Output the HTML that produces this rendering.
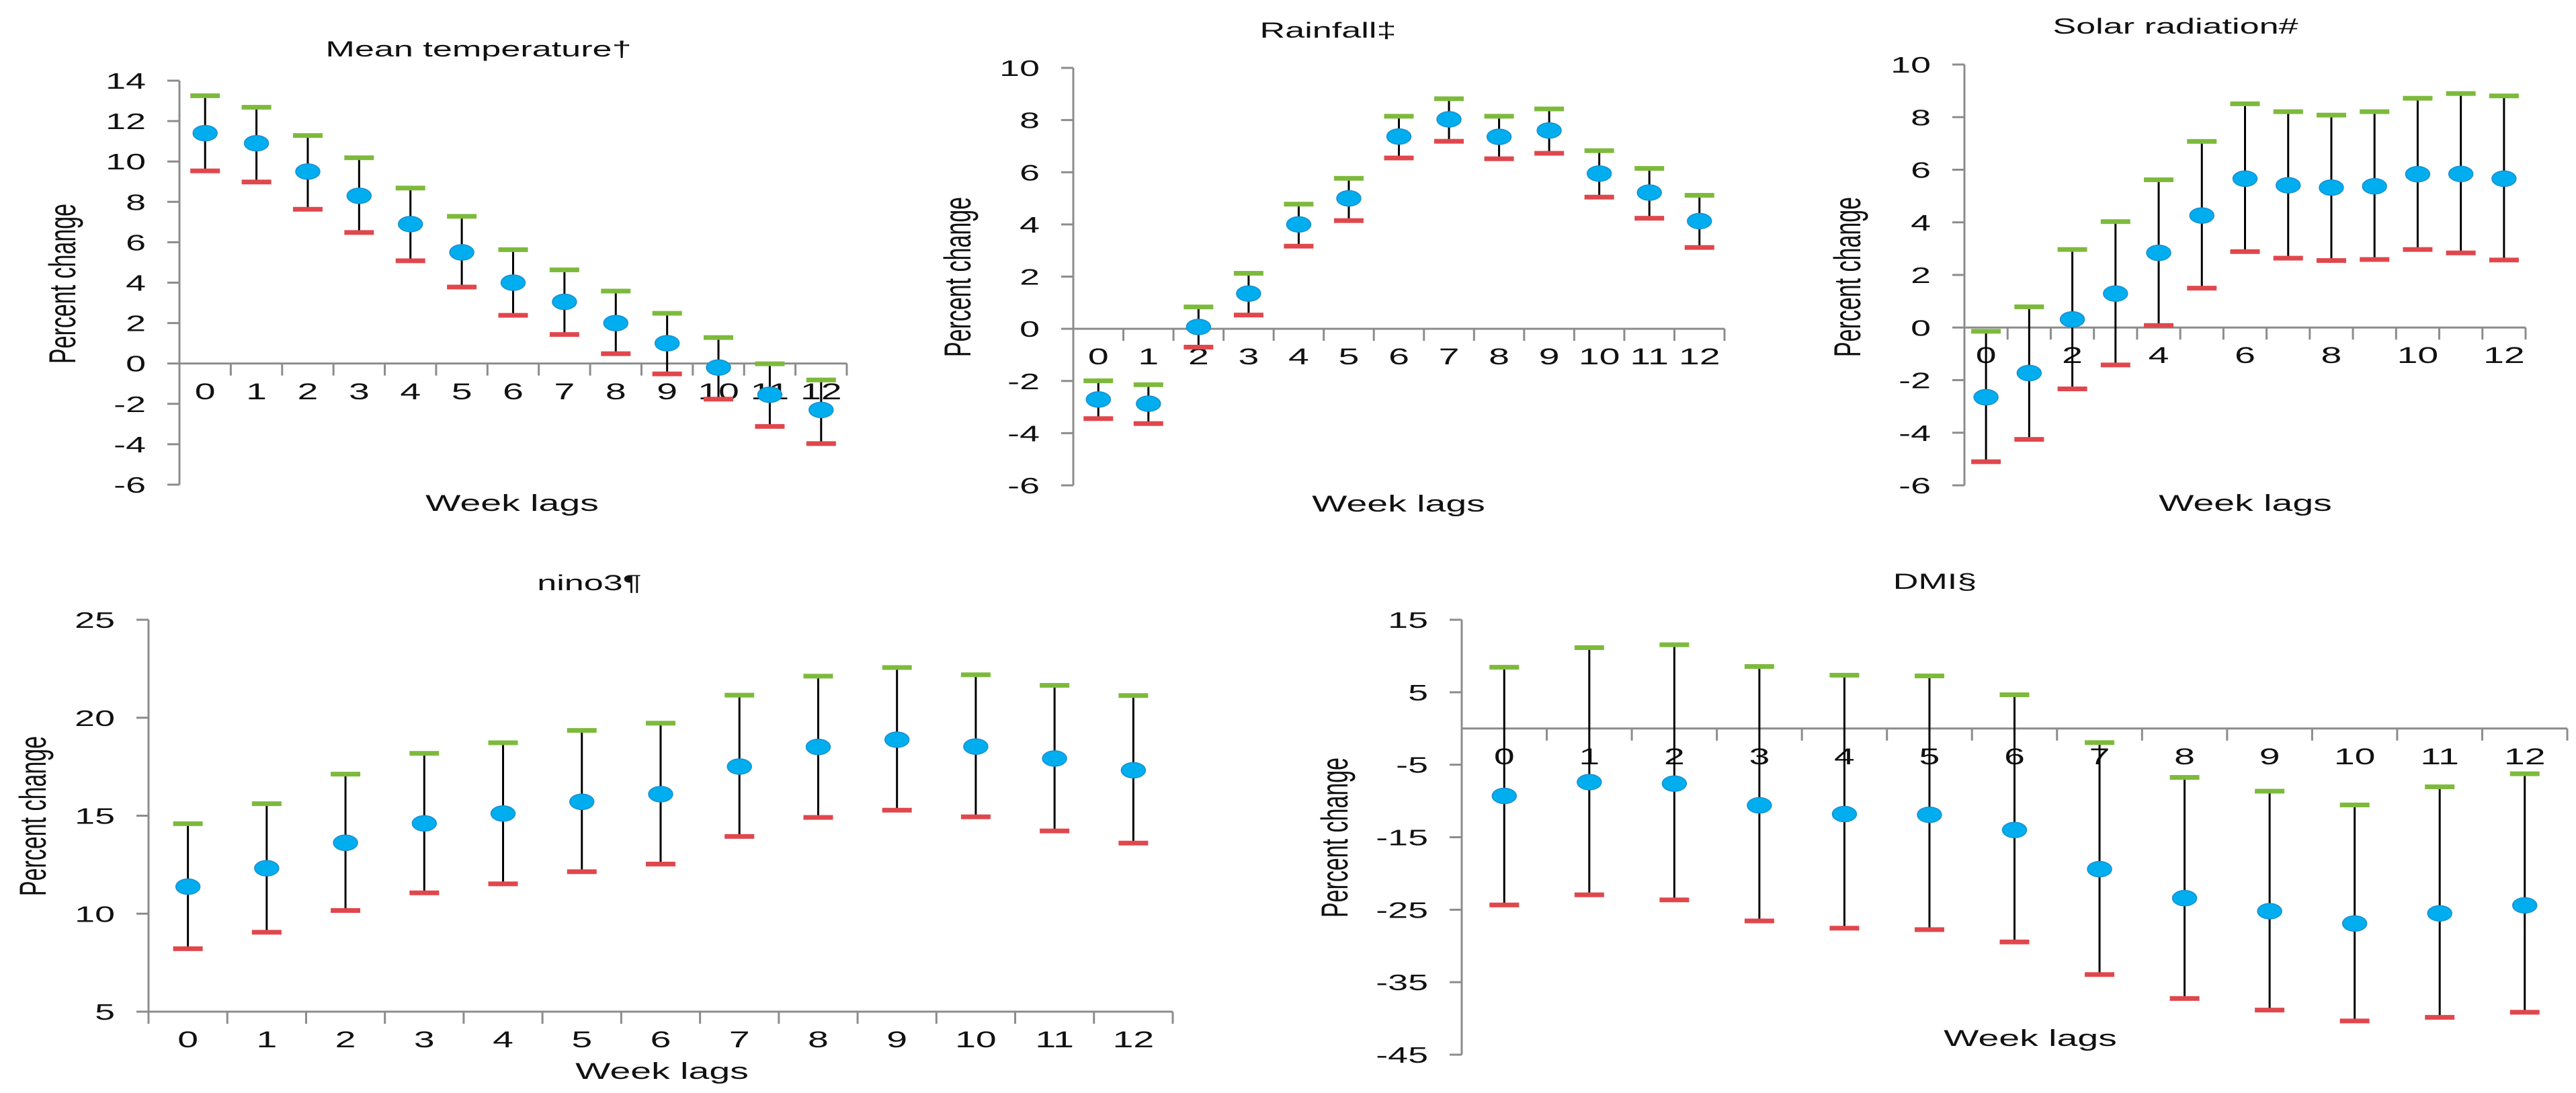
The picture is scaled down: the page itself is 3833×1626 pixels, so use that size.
<!DOCTYPE html>
<html><head><meta charset="utf-8"><style>html,body{margin:0;padding:0;background:#fff}svg{display:block}</style></head>
<body>
<svg id="fig" width="3833" height="1626" viewBox="0 0 3833 1626" xmlns="http://www.w3.org/2000/svg" font-family="Liberation Sans, Arial, sans-serif"></svg>
<script>
const lags = [0,1,2,3,4,5,6,7,8,9,10,11,12];
const tempEst = [11.4,10.9,9.5,8.3,6.9,5.5,4.0,3.05,2.0,1.0,-0.2,-1.55,-2.3];
const tempUp = [13.27,12.7,11.3,10.2,8.7,7.3,5.65,4.65,3.6,2.5,1.3,0,-0.8];
const tempLow = [9.55,9.0,7.65,6.5,5.1,3.8,2.4,1.45,0.5,-0.5,-1.75,-3.1,-3.95];
const rainEst = [-2.71,-2.87,0.07,1.35,4.0,5.0,7.37,8.03,7.36,7.6,5.95,5.22,4.13];
const rainUp = [-1.98,-2.13,0.85,2.14,4.79,5.78,8.16,8.83,8.16,8.44,6.84,6.16,5.13];
const rainLow = [-3.43,-3.62,-0.69,0.54,3.18,4.16,6.56,7.2,6.53,6.74,5.06,4.25,3.13];
const solarEst = [-2.65,-1.73,0.31,1.29,2.84,4.26,5.66,5.41,5.32,5.37,5.83,5.84,5.66];
const solarUp = [-0.13,0.8,2.98,4.04,5.63,7.09,8.52,8.22,8.09,8.22,8.73,8.91,8.82];
const solarLow = [-5.09,-4.24,-2.32,-1.41,0.09,1.51,2.9,2.65,2.56,2.6,2.98,2.85,2.58];
const ninoEst = [11.38,12.32,13.62,14.61,15.11,15.71,16.1,17.51,18.51,18.88,18.53,17.92,17.32];
const ninoUp = [14.61,15.63,17.14,18.2,18.74,19.37,19.74,21.17,22.14,22.58,22.21,21.67,21.15];
const ninoLow = [8.23,9.07,10.18,11.08,11.54,12.16,12.55,13.96,14.93,15.3,14.96,14.24,13.62];
const dmiEst = [-9.3,-7.4,-7.6,-10.6,-11.8,-11.9,-14.0,-19.4,-23.4,-25.2,-26.9,-25.5,-24.4];
const dmiUp = [8.5,11.2,11.6,8.6,7.4,7.3,4.7,-1.9,-6.7,-8.6,-10.5,-8.0,-6.2];
const dmiLow = [-24.3,-22.9,-23.6,-26.5,-27.5,-27.7,-29.4,-33.9,-37.2,-38.8,-40.3,-39.8,-39.1];
const tempTicks = [14,12,10,8,6,4,2,0,-2,-4,-6];
const rainTicks = [10,8,6,4,2,0,-2,-4,-6];
const solarTicks = [10,8,6,4,2,0,-2,-4,-6];
const ninoTicks = [25,20,15,10,5];
const dmiTicks = [15,5,-5,-15,-25,-35,-45];

const NS='http://www.w3.org/2000/svg';
const svg=document.getElementById('fig');
const SX=1.63;
function mk(tag,attrs,parent){const e=document.createElementNS(NS,tag);for(const k in attrs)e.setAttribute(k,attrs[k]);(parent||svg).appendChild(e);return e;}
function txt(s,x,y,size,anchor,parent,rot){
  const t=mk('text',{transform:'translate('+x+','+y+') scale('+SX+',1)'+(rot?' rotate(-90)':''),'font-size':size,'text-anchor':anchor,fill:'#111'},parent);
  t.textContent=s;return t;
}

function chart(o){
  const g=mk('g',{});
  
  
  const n=lags.length, bw=(o.x1-o.x0)/n;
  const ymin=o.ticks[o.ticks.length-1], ymax=o.ticks[0];
  const ys=v=>o.yTop+(ymax-v)/(ymax-ymin)*(o.yBot-o.yTop);
  const xs=i=>o.x0+bw*(i+0.5);
  const yAxis=mk('line',{x1:o.x0,y1:o.yTop,x2:o.x0,y2:o.yBot,stroke:'#8c8c8c','stroke-width':3},g);
  
  
  o.ticks.forEach(v=>{
    mk('line',{x1:o.x0-18,y1:ys(v),x2:o.x0,y2:ys(v),stroke:'#8c8c8c','stroke-width':3},g);
    const t=txt(String(v),o.x0-50,ys(v)+12,33,'end',g);
    
    
  });
  const ax=ys(o.xAxisAt);
  const xAxis=mk('line',{x1:o.x0,y1:ax,x2:o.x1,y2:ax,stroke:'#8c8c8c','stroke-width':3},g);
  
  
  for(let i=0;i<=n;i++){mk('line',{x1:o.x0+bw*i,y1:ax,x2:o.x0+bw*i,y2:ax+18,stroke:'#8c8c8c','stroke-width':3},g);}
  lags.forEach((l,i)=>{
    if(o.evenOnly && l%2) return;
    const t=txt(String(l),xs(i),o.labY,34,'middle',g);
    
    
  });
  lags.forEach((l,i)=>{
    const x=xs(i);
    const s=mk('line',{x1:x,y1:ys(o.up[i]),x2:x,y2:ys(o.low[i]),stroke:'#000','stroke-width':3},g);
    
    
    const cu=mk('rect',{x:x-22,y:ys(o.up[i])-3,width:44,height:7,fill:'#7dba3c'},g);
    
    
    const cl=mk('rect',{x:x-22,y:ys(o.low[i])-3,width:44,height:7,fill:'#e0474c'},g);
    
    
    const p=mk('ellipse',{cx:x,cy:ys(o.est[i]),rx:18,ry:11.5,fill:'#00aeef',stroke:'#1a8fd0','stroke-width':1.5},g);
    
    
  });
  const ti=txt(o.title,o.tx,o.ty,32,'middle',g);
  
  
  const wl=txt('Week lags',o.wx,o.wy,34,'middle',g);
  
  
  const yt=txt('Percent change',o.yx,o.yy,34,'middle',g,true);
  
  
}

chart({name:'mean-temperature-chart',title:'Mean temperature\u2020',est:tempEst,up:tempUp,low:tempLow,ticks:tempTicks,
  x0:267,x1:1260,yTop:120,yBot:721,xAxisAt:0,labY:594,tx:712,ty:84,wx:762,wy:760,yx:112,yy:422});
chart({name:'rainfall-chart',title:'Rainfall\u2021',est:rainEst,up:rainUp,low:rainLow,ticks:rainTicks,
  x0:1597,x1:2566,yTop:101,yBot:722,xAxisAt:0,labY:542,tx:1976,ty:56,wx:2081,wy:761,yx:1444,yy:412});
chart({name:'solar-radiation-chart',title:'Solar radiation#',est:solarEst,up:solarUp,low:solarLow,ticks:solarTicks,
  x0:2923,x1:3758,yTop:96,yBot:722,xAxisAt:0,labY:540,evenOnly:true,tx:3237,ty:50,wx:3341,wy:760,yx:2768,yy:412});
chart({name:'nino3-chart',title:'nino3\u00b6',est:ninoEst,up:ninoUp,low:ninoLow,ticks:ninoTicks,
  x0:221,x1:1745,yTop:922,yBot:1505,xAxisAt:5,labY:1558,tx:877,ty:878,wx:985,wy:1605,yx:68,yy:1214});
chart({name:'dmi-chart',title:'DMI\u00a7',est:dmiEst,up:dmiUp,low:dmiLow,ticks:dmiTicks,
  x0:2175,x1:3820,yTop:922,yBot:1569,xAxisAt:0,labY:1137,tx:2879,ty:876,wx:3021,wy:1556,yx:2005,yy:1246});
</script>
</body></html>
